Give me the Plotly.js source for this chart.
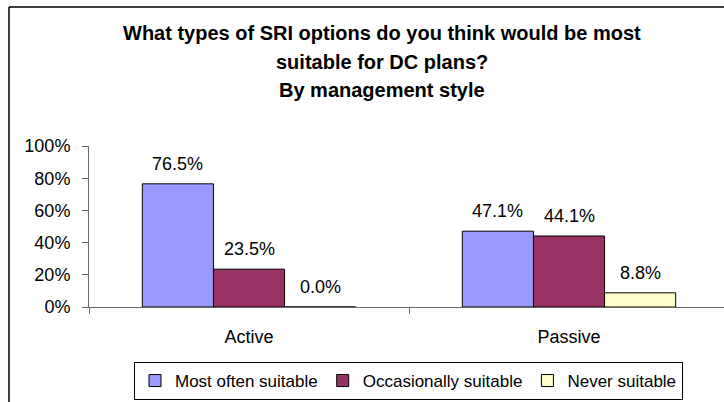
<!DOCTYPE html>
<html>
<head>
<meta charset="utf-8">
<script src="https://cdn.plot.ly/plotly-3.0.1.min.js"></script>
<style>
html,body{margin:0;padding:0;background:#fff;}
#chart{width:724px;height:402px;}
</style>
</head>
<body>
<div id="chart"></div>
<script>
var categories = ["Active", "Passive"];
var seriesNames = ["Most often suitable", "Occasionally suitable", "Never suitable"];
var mostOften = [76.5, 47.1];
var occasionally = [23.5, 44.1];
var never = [0.0, 8.8];
var titleLines = ["What types of SRI options do you think would be most", "suitable for DC plans?", "By management style"];
var yTickVals = [0, 20, 40, 60, 80, 100];

var seriesValues = [mostOften, occasionally, never];
var colors = ["#9999FF", "#993366", "#FFFFCC"];
var font = "Liberation Sans, Arial, sans-serif";
var bargap = 1/3;
var nS = seriesValues.length;
var barW = (1 - bargap) / nS;

var traces = seriesValues.map(function(vals, i){
  return {
    type: "bar",
    name: seriesNames[i],
    x: categories.map(function(c, k){ return k; }),
    y: vals,
    marker: {color: colors[i], line: {color: "#000", width: 1}},
    hoverinfo: "none"
  };
});

var annotations = [];
seriesValues.forEach(function(vals, i){
  vals.forEach(function(v, k){
    annotations.push({
      xref: "x", yref: "y",
      x: k + (i - (nS - 1) / 2) * barW,
      y: v,
      yshift: 20,
      yanchor: "middle", xanchor: "center",
      text: v.toFixed(1) + "%",
      showarrow: false,
      font: {family: font, size: 18, color: "#000"}
    });
  });
});

var L = 89, T = 146, B = 94.5, W = 724, H = 402;
var pw = W - L, ph = H - T - B;
function px2x(p){ return (p - L) / pw; }
function py2y(p){ return (H - B - p) / ph; }

var titleY = [33, 62, 90];
titleLines.forEach(function(t, i){
  annotations.push({
    xref: "paper", yref: "paper",
    x: px2x(382), y: py2y(titleY[i]),
    xanchor: "center", yanchor: "middle",
    text: "<b>" + t + "</b>",
    showarrow: false,
    font: {family: font, size: 20, color: "#000"}
  });
});

var layout = {
  width: W, height: H,
  margin: {l: L, r: 0, t: T, b: B, pad: 0},
  paper_bgcolor: "#fff", plot_bgcolor: "#fff",
  showlegend: true,
  barmode: "group",
  bargap: bargap,
  bargroupgap: 0,
  font: {family: font, size: 18, color: "#000"},
  xaxis: {
    type: "linear",
    tickvals: categories.map(function(c, k){ return k; }),
    ticktext: categories,
    range: [-0.5, -0.5 + pw / 320],
    showgrid: false, zeroline: false,
    showline: true, linecolor: "#666", linewidth: 1,
    ticks: "",
    ticklabelstandoff: 13,
    tickfont: {family: font, size: 18, color: "#000"}
  },
  xaxis2: {
    overlaying: "x", matches: "x", anchor: "y",
    tickvals: [-0.5, 0.5], ticktext: ["", ""],
    ticks: "outside", ticklen: 6, tickcolor: "#666", tickwidth: 1,
    showgrid: false, zeroline: false, showline: false,
    side: "bottom"
  },
  yaxis: {
    range: [0, 100],
    tickvals: yTickVals,
    ticktext: yTickVals.map(function(v){ return v + "%"; }),
    showgrid: false, zeroline: false,
    showline: true, linecolor: "#666", linewidth: 1,
    ticks: "outside", ticklen: 6, tickcolor: "#666",
    ticklabelstandoff: 8,
    tickfont: {family: font, size: 18, color: "#000"}
  },
  legend: {
    orientation: "h",
    xref: "container", yref: "container",
    x: 134 / W, y: 1 - 381 / H,
    xanchor: "left", yanchor: "middle",
    bgcolor: "#fff", bordercolor: "#000", borderwidth: 1,
    font: {family: font, size: 17, color: "#000"},
    itemwidth: 30, tracegroupgap: 0
  },
  annotations: annotations,
  shapes: [
    {type: "line", xref: "paper", yref: "paper", x0: px2x(9), x1: px2x(9), y0: py2y(6.5), y1: py2y(410), line: {color: "#000", width: 1.5}},
    {type: "line", xref: "paper", yref: "paper", x0: px2x(9), x1: px2x(730), y0: py2y(6.5), y1: py2y(6.5), line: {color: "#000", width: 1.5}}
  ]
};

traces.push({type: "scatter", x: [0], y: [0], xaxis: "x2", yaxis: "y", mode: "none", showlegend: false, hoverinfo: "none"});

Plotly.newPlot("chart", traces, layout, {displayModeBar: false, staticPlot: true});
</script>
</body>
</html>
